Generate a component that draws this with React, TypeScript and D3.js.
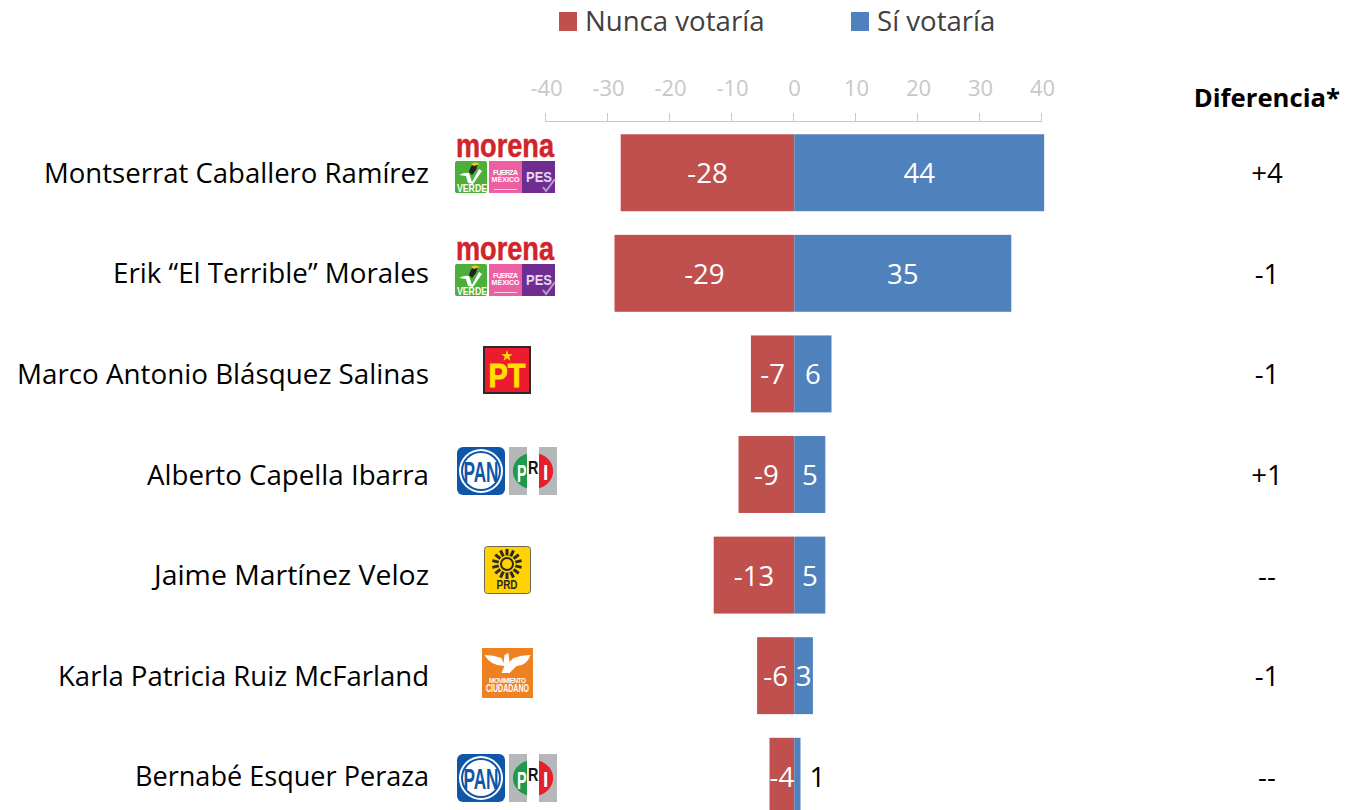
import React from "react";
import * as d3 from "d3";

const candidates = [
  "Montserrat Caballero Ramírez",
  "Erik “El Terrible” Morales",
  "Marco Antonio Blásquez Salinas",
  "Alberto Capella Ibarra",
  "Jaime Martínez Veloz",
  "Karla Patricia Ruiz McFarland",
  "Bernabé Esquer Peraza",
];
const nunca = [-28, -29, -7, -9, -13, -6, -4];
const si = [44, 35, 6, 5, 5, 3, 1];
const diferencia = ["+4", "-1", "-1", "+1", "--", "-1", "--"];
const parties = ["mfp", "mfp", "pt", "panpri", "prd", "mc", "panpri"];
const ticks = [-40, -30, -20, -10, 0, 10, 20, 30, 40];

const FONT = "'Open Sans', 'Noto Sans', sans-serif";
const LOGOFONT = "'Liberation Sans', sans-serif";
const RED = "#c0504d";
const BLUE = "#4f81bd";
const LOGO_TOPS = [139, 242, 346, 447, 546, 648, 754];
const NAME_WIDTHS = [385, 316, 412, 282, 275, 371, 294];

const x = d3.scaleLinear().domain([-40, 40]).range([545.5, 1041.5]);
const barX = d3.scaleLinear().domain([-40, 40]).range([546.3, 1042.3]);
const barMax = 40.3;
const y = d3.scaleBand<number>().domain(d3.range(7)).range([122.5, 826.5]).paddingInner(0.235).paddingOuter(0.117);

function Morena({ top }: { top: number }) {
  const t = top + 22;
  return (
    <g>
      <text x={505} y={top + 18} textAnchor="middle" fontFamily={LOGOFONT} fontWeight={700} fontSize={33} fill="#d2232a" stroke="#d2232a" strokeWidth={0.5} textLength={98} lengthAdjust="spacingAndGlyphs">morena</text>
      <rect x={455} y={t} width={32} height={32} rx={2} fill="#4caf3a" />
      <path d={`M459 ${t + 14} Q465 ${t + 11} 469 ${t + 12} L472 ${t + 21} L479 ${t + 8} L482 ${t + 10} L473 ${t + 23} L468 ${t + 22} L466 ${t + 15}Z`} fill="#fff" />
      <path d={`M469 ${t + 11} Q470 ${t + 3} 478 ${t + 2} L476 ${t + 9} L472 ${t + 14}Z`} fill="#222" />
      <path d={`M471 ${t + 3} Q475 ${t} 480 ${t + 3} L474 ${t + 5}Z`} fill="#f5c518" />
      <text x={472} y={t + 31} textAnchor="middle" fontFamily={LOGOFONT} fontWeight={700} fontSize={11} fill="#fff" textLength={30} lengthAdjust="spacingAndGlyphs">VERDE</text>
      <rect x={489} y={t} width={33} height={32} fill="#ec5fa3" />
      <text x={505.5} y={t + 14} textAnchor="middle" fontFamily={LOGOFONT} fontWeight={700} fontSize={7} fill="#fff" textLength={25} lengthAdjust="spacing">FUERZA</text>
      <text x={505.5} y={t + 21} textAnchor="middle" fontFamily={LOGOFONT} fontWeight={700} fontSize={7} fill="#fff" textLength={28} lengthAdjust="spacing">MÉXICO</text>
      <rect x={494} y={t + 28} width={23} height={1} fill="#fbd3e6" />
      <rect x={522} y={t} width={33} height={32} fill="#6f2c91" />
      <text x={539} y={t + 21} textAnchor="middle" fontFamily={LOGOFONT} fontWeight={700} fontSize={15.5} fill="#e6d8ee" textLength={26} lengthAdjust="spacingAndGlyphs">PES</text>
      <path d={`M543 ${t + 26} L546 ${t + 30} L555 ${t + 18}`} fill="none" stroke="#b79ccb" strokeWidth={2} />
    </g>
  );
}

function PanPri({ top }: { top: number }) {
  const cx = 481;
  const cy = top + 24;
  return (
    <g>
      <rect x={457} y={top} width={48} height={48} rx={6} fill="#0f55a8" />
      <circle cx={cx} cy={cy} r={22} fill="#fff" />
      <circle cx={cx} cy={cy} r={20} fill="#0f55a8" />
      <circle cx={cx} cy={cy} r={18} fill="#fff" />
      <text transform={`translate(${cx},${cy + 10.5}) scale(0.82,1.38)`} textAnchor="middle" fontFamily={LOGOFONT} fontWeight={700} fontSize={21} fill="#0f55a8">PAN</text>
      <rect x={509} y={top} width={48} height={48} fill="#b5b7b9" />
      <rect x={527} y={top} width={12} height={48} fill="#fff" />
      <path d={`M527 ${cy - 17.2} A20 18 0 0 0 527 ${cy + 17.2}Z`} fill="#1f9a4c" />
      <path d={`M539 ${cy - 17.2} A20 18 0 0 1 539 ${cy + 17.2}Z`} fill="#e3202b" />
      <text transform={`translate(517,${top + 35}) scale(0.9,1.5)`} fontFamily={LOGOFONT} fontWeight={700} fontSize={16} fill="#fff">P</text>
      <text transform={`translate(528,${top + 27}) scale(0.9,1.1)`} fontFamily={LOGOFONT} fontWeight={700} fontSize={16} fill="#111">R</text>
      <text transform={`translate(543,${top + 33}) scale(1.2,1.4)`} fontFamily={LOGOFONT} fontWeight={700} fontSize={16} fill="#fff">I</text>
    </g>
  );
}

function Pt({ top }: { top: number }) {
  return (
    <g>
      <rect x={484} y={top + 1} width={46} height={46} fill="#ec1c2e" stroke="#2a2a2a" strokeWidth={2} />
      <path d={d3.symbol().type(d3.symbolStar).size(40)() as string} transform={`translate(507,${top + 10})`} fill="#ffe100" />
      <text x={507} y={top + 41} textAnchor="middle" fontFamily={LOGOFONT} fontWeight={700} fontSize={33} fill="#ffe100" stroke="#ffe100" strokeWidth={0.8} textLength={37} lengthAdjust="spacingAndGlyphs">PT</text>
    </g>
  );
}

const rays = d3.range(14).map((i) => (i * 360) / 14);

function Prd({ top }: { top: number }) {
  const cx = 507;
  const cy = top + 18;
  return (
    <g>
      <rect x={484.5} y={top + 0.5} width={46} height={47} rx={3} fill="#ffd200" stroke="#6b6a55" strokeWidth={1} />
      {rays.map((a) => (
        <rect key={a} x={cx - 1.5} y={cy - 15} width={3} height={6.5} fill="#2a2a20" transform={`rotate(${a} ${cx} ${cy})`} />
      ))}
      <circle cx={cx} cy={cy} r={6} fill="none" stroke="#2a2a20" strokeWidth={2} />
      <text x={cx} y={top + 43} textAnchor="middle" fontFamily={LOGOFONT} fontWeight={700} fontSize={12} fill="#2a2a20" textLength={21} lengthAdjust="spacingAndGlyphs">PRD</text>
    </g>
  );
}

function Mc({ top }: { top: number }) {
  const m = 507.5;
  const t = top + 6;
  return (
    <g>
      <rect x={482} y={top} width={51} height={50} fill="#ee8220" />
      <path d={`M${m - 23} ${t + 1} Q${m - 14} ${t + 1} ${m - 6} ${t + 4} L${m - 4} ${t + 9} L${m - 3} ${t + 1} L${m + 1} ${t - 1} L${m + 2} ${t + 8} L${m + 6} ${t + 4} Q${m + 14} ${t + 1} ${m + 23} ${t + 1} Q${m + 19} ${t + 12} ${m + 9} ${t + 12} L${m + 2} ${t + 19} L${m - 6} ${t + 19} L${m - 3} ${t + 12} Q${m - 17} ${t + 12} ${m - 23} ${t + 1}Z`} fill="#fff" />
      <text x={m} y={top + 35} textAnchor="middle" fontFamily={LOGOFONT} fontWeight={700} fontSize={6.5} fill="#fff" textLength={37} lengthAdjust="spacing">MOVIMIENTO</text>
      <text x={m} y={top + 44} textAnchor="middle" fontFamily={LOGOFONT} fontWeight={700} fontSize={10} fill="#fff" textLength={43} lengthAdjust="spacingAndGlyphs">CIUDADANO</text>
    </g>
  );
}

function Logo({ kind, top }: { kind: string; top: number }) {
  if (kind === "mfp") return <Morena top={top} />;
  if (kind === "pt") return <Pt top={top} />;
  if (kind === "panpri") return <PanPri top={top} />;
  if (kind === "prd") return <Prd top={top} />;
  return <Mc top={top} />;
}

export default function App() {
  return (
    <svg width={1345} height={810} style={{ position: "fixed", left: 0, top: 0, background: "#fff" }} fontFamily={FONT}>
      <rect x={559} y={12} width={18} height={19} fill={RED} />
      <text x={585} y={31} fontSize={27.6} fill="#404040">Nunca votaría</text>
      <rect x={851} y={12} width={18} height={19} fill={BLUE} />
      <text x={877} y={31} fontSize={27.6} fill="#404040">Sí votaría</text>

      <path d={`M${x(-40)} 121.5 H${x(40)}`} stroke="#c8c8c8" strokeWidth={1} fill="none" />
      {ticks.map((t) => (
        <g key={t}>
          <line x1={x(t)} x2={x(t)} y1={113} y2={122} stroke="#c8c8c8" strokeWidth={1} />
          <text x={x(t) + 1} y={95.5} fontSize={22} fill="#c8c8c8" textAnchor="middle">{t}</text>
        </g>
      ))}

      <text x={1340} y={107} fontSize={25.7} fontWeight={700} fill="#000" textAnchor="end">Diferencia*</text>

      {candidates.map((name, i) => {
        const top = y(i) as number;
        const h = y.bandwidth();
        const cy = top + h / 2;
        const x0 = barX(0);
        const xn = barX(nunca[i]);
        const xs = barX(Math.min(si[i], barMax));
        const siInside = si[i] > 1;
        return (
          <g key={name}>
            <text x={429 - NAME_WIDTHS[i]} y={cy + 10} fontSize={27.6} fill="#000" textLength={NAME_WIDTHS[i]} lengthAdjust="spacingAndGlyphs">{name}</text>
            <Logo kind={parties[i]} top={LOGO_TOPS[i]} />
            <rect x={xn} y={top} width={x0 - xn} height={h} fill={RED} />
            <rect x={x0} y={top} width={xs - x0} height={h} fill={BLUE} />
            <text x={(xn + x0) / 2} y={cy + 10.5} fontSize={27.6} fill="#fff" textAnchor="middle">{nunca[i]}</text>
            <text x={siInside ? (x0 + xs) / 2 : xs + 17} y={cy + 10.5} fontSize={27.6} fill={siInside ? "#fff" : "#000"} textAnchor="middle">{si[i]}</text>
            <text x={1267} y={cy + 10.5} fontSize={27.6} fill="#000" textAnchor="middle">{diferencia[i]}</text>
          </g>
        );
      })}
    </svg>
  );
}
